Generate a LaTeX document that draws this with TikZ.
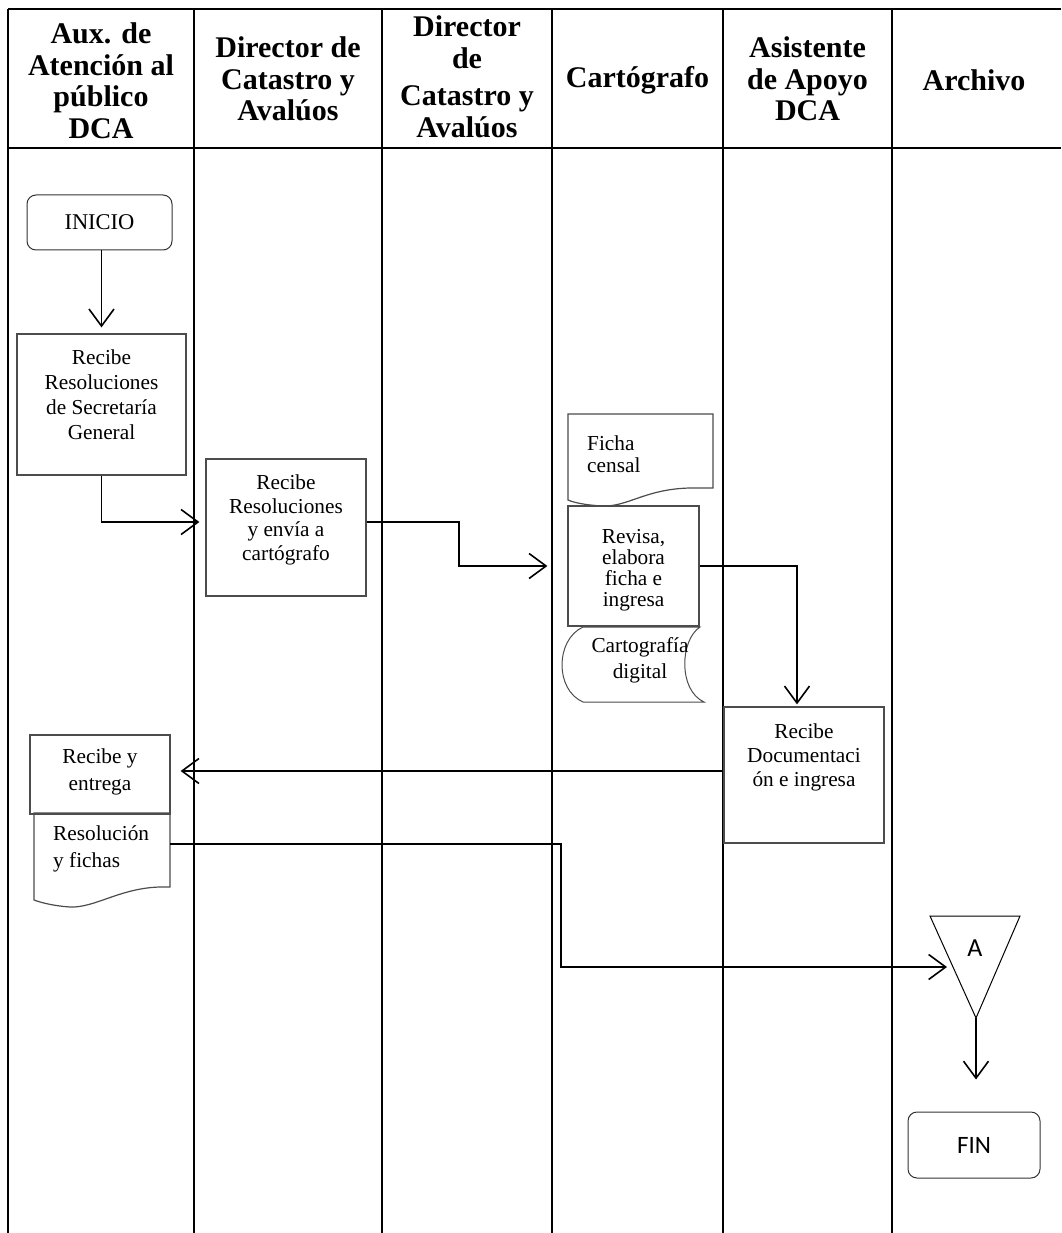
\documentclass[tikz,border=0pt]{standalone}
\usepackage{fontspec}
\setmainfont{Liberation Serif}
\newfontfamily\calib{Carlito}
\usetikzlibrary{arrows.meta}
\tikzset{
  grid/.style={line width=1.3pt, black},
  proc/.style={draw=black!70, line width=1.2pt, rectangle, inner sep=0pt},
  term/.style={draw=black!80, line width=1pt, rectangle, rounded corners=9pt, inner sep=0pt},
  conn/.style={line width=1.6pt, black},
  arr/.style={conn, -{Straight Barb[length=17pt,width=25pt]}},
  hdr/.style={align=center, inner sep=0pt, font=\fontsize{30}{31.5}\selectfont\bfseries},
  txt/.style={align=center, inner sep=0pt},
  docshape/.style={draw=black!70, line width=1.2pt}
}
\begin{document}
\begin{tikzpicture}[x=1pt,y=-1pt]
\useasboundingbox (0,0) rectangle (1061,1233);
% lanes
\draw[grid] (8,9) -- (1061,9);
\draw[grid] (8,148) -- (1061,148);
\foreach \xx in {8,194,382,552,723,892} {\draw[grid] (\xx,9) -- (\xx,1233);}
% headers
\node[hdr] (h1) at (101,80.5) {Aux. de\\Atención al\\público\\DCA};
\node[hdr] (h2) at (288,79) {Director de\\Catastro y\\Avalúos};
\node[hdr, font=\fontsize{30}{31.5}\selectfont\bfseries] (h3) at (467,77) {Director\\de\\[6pt]Catastro y\\Avalúos};
\node[hdr] (h4) at (637.5,80) {Cartógrafo};
\node[hdr] (h5) at (807.5,79) {Asistente\\de Apoyo\\DCA};
\node[hdr] (h6) at (974,80) {Archivo};

% INICIO
\node[term, minimum width=145pt, minimum height=55pt, font=\fontsize{22.5}{25}\selectfont] (inicio) at (99.5,222.5) {INICIO};
% boxes
\node[proc, minimum width=169pt, minimum height=141pt] (box1) at (101.5,404.5) {};
\node[txt, font=\fontsize{21.3}{25}\selectfont] (t1) at (101.5,395) {Recibe\\Resoluciones\\de Secretaría\\General};
\node[proc, minimum width=160pt, minimum height=137pt] (box2) at (286,527.5) {};
\node[txt, font=\fontsize{21.3}{23.5}\selectfont] (t2) at (286,520) {Recibe\\Resoluciones\\y envía a\\cartógrafo};
\node[proc, minimum width=131pt, minimum height=120pt] (box3) at (633.5,566) {};
\begin{scope}
\clip (568,506) rectangle (699,615);
\node[txt, font=\fontsize{21.3}{21}\selectfont] (t3) at (633.5,570) {Revisa,\\elabora\\ficha e\\ingresa};
\end{scope}
\node[proc, minimum width=160pt, minimum height=136pt] (box4) at (804,775) {};
\node[txt, font=\fontsize{21.3}{24}\selectfont] (t4) at (804,757) {Recibe\\Documentaci\\ón e ingresa};
\node[proc, minimum width=140pt, minimum height=79pt] (box5) at (100,774.5) {};
\node[txt, font=\fontsize{21.3}{27}\selectfont] (t5) at (100,772) {Recibe y\\entrega};

% Ficha censal document
\draw[docshape] (568,414) -- (713,414) -- (713,488) -- (690,488)
  .. controls (645,489) and (628,507) .. (602,506)
  .. controls (586,505) and (575,503) .. (568,500) -- cycle;
\node[txt, align=left, anchor=west, font=\fontsize{21.3}{22}\selectfont] (t7) at (587,454) {Ficha\\censal};

% Cartografia digital (stored data)
\draw[docshape, line width=1pt] (583,627) -- (700,627)
  .. controls (680,640) and (678,690) .. (704,702) -- (583,702)
  .. controls (555,690) and (555,640) .. (583,627) -- cycle;
\node[txt, font=\fontsize{21.3}{26}\selectfont] (t8) at (640,660) {Cartografía\\digital};

% Resolucion y fichas document
\draw[docshape] (34,813) -- (170,813) -- (170,887) -- (160,887)
  .. controls (120,888) and (95,908) .. (70,907)
  .. controls (55,906) and (42,903) .. (34,900) -- cycle;
\node[txt, align=left, anchor=west, font=\fontsize{21.3}{27}\selectfont] (t6) at (53,848.5) {Resolución\\y fichas};
\coordinate (d2e) at (170,844);

% connector A triangle
\draw[line width=1pt] (930,916) -- (1020,916) -- (976,1018) -- cycle;
\coordinate (apex) at (976,1018);
\coordinate (ain) at (947,967);
\node[inner sep=0pt, font=\calib\fontsize{26}{28}\selectfont] (tA) at (975,948) {A};

% FIN
\node[term, minimum width=132pt, minimum height=66pt, font=\calib\fontsize{25}{28}\selectfont] (fin) at (974,1145) {FIN};

% bends
\coordinate (c1) at (459,522);
\coordinate (c2) at (561,844);

% connectors
\draw[arr, shorten >=6pt] (box1.north |- inicio.south) -- (box1.north);
\draw[arr] (box1.south) |- ([xshift=-6pt,yshift=5.5pt]box2.west);
\draw[arr] ([yshift=5.5pt]box2.east) -- (c1) |- ([xshift=-20pt]box3.west);
\draw[arr] (box3.east) -| ([xshift=-7pt,yshift=2pt]box4.north);
\draw[arr] ([yshift=4pt]box4.west) -- ([xshift=10pt,yshift=3.5pt]box5.east);
\draw[arr] (d2e) -- (c2) |- (ain);
\draw[arr, shorten >=32pt] (apex) -- (apex |- fin.north);
\end{tikzpicture}
\end{document}
